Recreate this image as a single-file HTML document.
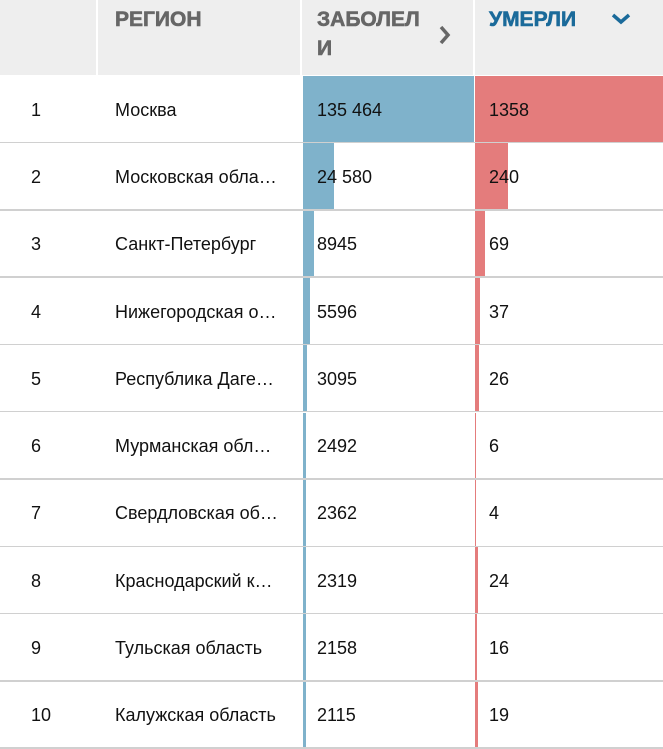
<!DOCTYPE html>
<html><head><meta charset="utf-8"><style>
body{margin:0;width:663px;height:738px;overflow:hidden;background:#fff;font-family:"Liberation Sans",Arial,sans-serif;position:relative}
.a{position:absolute}
.hd{font-family:"Liberation Sans",Arial,sans-serif;font-weight:700;font-size:21px;color:#666;line-height:29px;-webkit-text-stroke:0.6px currentColor}
.cell{position:absolute;font-size:18px;color:#111;line-height:20px}
</style></head><body>
<div class="a" style="left:0;top:0;width:663px;height:75px;background:#eee"></div>
<div class="a" style="left:96px;top:0;width:2px;height:75px;background:#fff"></div>
<div class="a" style="left:300px;top:0;width:2px;height:75px;background:#fff"></div>
<div class="a" style="left:473px;top:0;width:2px;height:75px;background:#fff"></div>
<div class="a hd" style="left:115px;top:5px">РЕГИОН</div>
<div class="a hd" style="left:317px;top:5px;width:110px">ЗАБОЛЕЛ<br>И</div>
<svg class="a" style="left:438px;top:25px" width="14" height="20"><polyline points="3,2 10,10 3,18" fill="none" stroke="#666" stroke-width="3.5"/></svg>
<div class="a hd" style="left:489px;top:5px;color:#1a6a9a">УМЕРЛИ</div>
<svg class="a" style="left:611px;top:12px" width="20" height="14"><polyline points="2,3 10,10 18,3" fill="none" stroke="#1a6a9a" stroke-width="3.5"/></svg>
<div id="rows"></div>
<script>
const regions=["Москва","Московская обла…","Санкт-Петербург","Нижегородская о…","Республика Даге…","Мурманская обл…","Свердловская об…","Краснодарский к…","Тульская область","Калужская область"];
const cases=[135464,24580,8945,5596,3095,2492,2362,2319,2158,2115];
const deaths=[1358,240,69,37,26,6,4,24,16,19];
const caseLabels=["135 464","24 580","8945","5596","3095","2492","2362","2319","2158","2115"];
const top0=75,rowH=67.3,cX=303,cW=171,dX=475,dW=188;
const maxC=Math.max(...cases),maxD=Math.max(...deaths);
const xC=v=>v/maxC*cW, xD=v=>v/maxD*dW;
const root=document.getElementById('rows');
regions.forEach((r,i)=>{
  const y=top0+i*rowH;
  const row=document.createElement('div');
  
  
  row.className='a';
  row.style.cssText=`left:0;top:${y}px;width:663px;height:${rowH}px`;
  const line=document.createElement('div');
  
  
  line.className='a';
  line.style.cssText=`left:0;top:${rowH-0.5}px;width:663px;height:1.5px;background:#d0d0d0`;
  row.appendChild(line);
  const cb=document.createElement('div');
  
  
  cb.className='a';
  cb.style.cssText=`left:${cX}px;top:1px;height:${rowH-1.5}px;width:${Math.max(2.5,xC(cases[i]))}px;background:#7fb2cb`;
  row.appendChild(cb);
  const db=document.createElement('div');
  
  
  db.className='a';
  db.style.cssText=`left:${dX}px;top:1px;height:${rowH-1.5}px;width:${Math.max(1,xD(deaths[i]))}px;background:#e47c7c`;
  row.appendChild(db);
  const ty=rowH/2-9;
  const mk=(name,txt,x)=>{const t=document.createElement('div');
    
    
    t.className='cell';t.style.left=x+'px';t.style.top=ty+'px';t.textContent=txt;row.appendChild(t);};
  mk('rank-value',String(i+1),31);
  mk('region-name',r,115);
  mk('cases-value',caseLabels[i],317);
  mk('deaths-value',String(deaths[i]),489);
  root.appendChild(row);
});
</script>
</body></html>
